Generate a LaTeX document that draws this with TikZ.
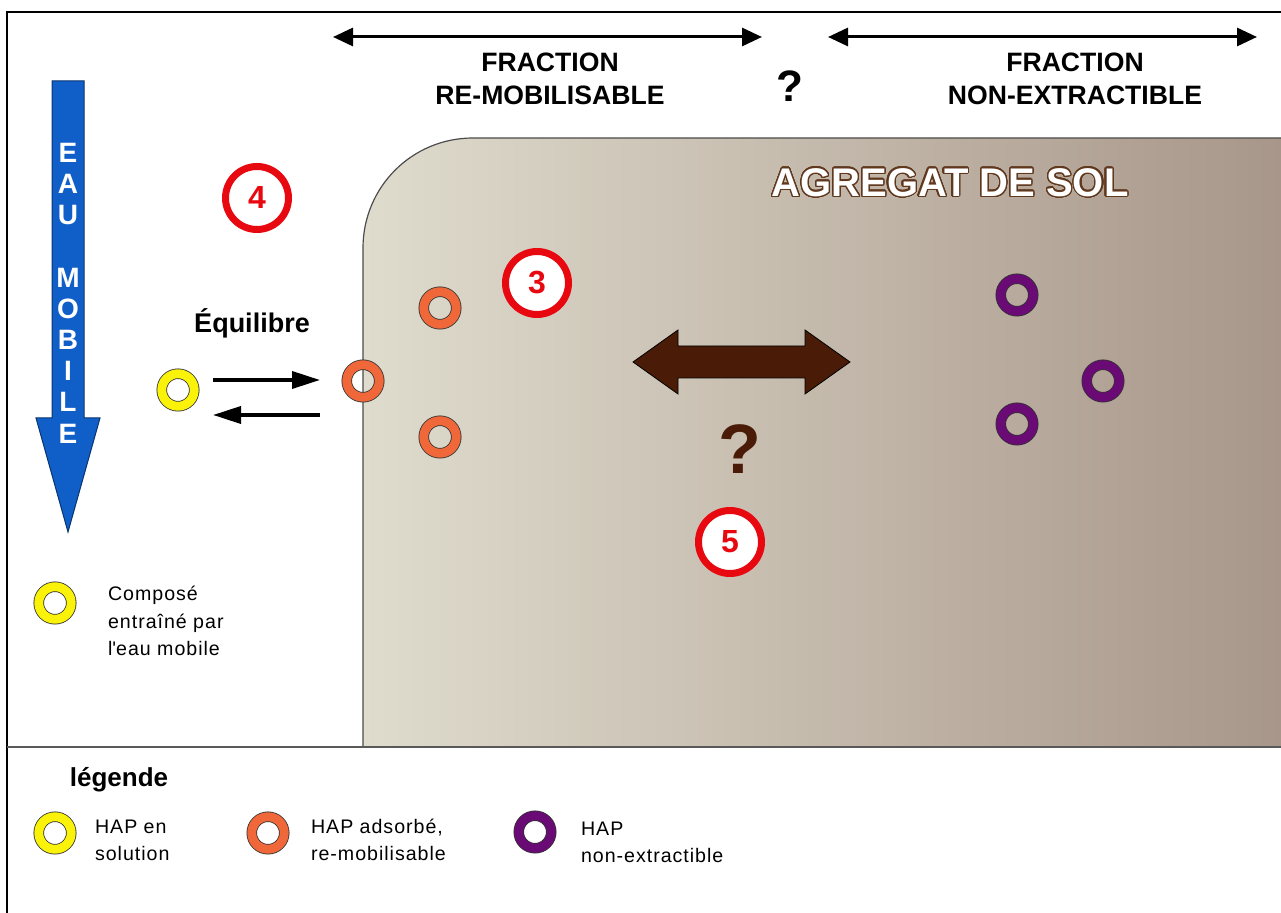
\documentclass[tikz,border=0pt]{standalone}
\usepackage{fontspec}
\setmainfont{Liberation Sans}
\newfontfamily\legfont[LetterSpace=5]{Liberation Sans}
\usepackage[copies]{contour}
\usetikzlibrary{
  arrows.meta,
  positioning,
}
\definecolor{eaublue}{RGB}{16,95,201}
\definecolor{hapyellow}{RGB}{250,242,8}
\definecolor{haporange}{RGB}{240,104,58}
\definecolor{hapviolet}{RGB}{106,10,116}
\definecolor{solleft}{RGB}{223,220,205}
\definecolor{solright}{RGB}{168,150,138}
\definecolor{brunfleche}{RGB}{74,28,8}
\definecolor{numred}{RGB}{232,8,16}
\definecolor{brunsol}{RGB}{96,56,30}
\contourlength{0.6pt}
\contournumber{32}

\tikzstyle{hap} = [
  circle,
  draw=black!80,
  line width=0.4pt,
  double distance=4.45pt,
  minimum size=16.25pt,
  inner sep=0pt,
]
\tikzstyle{hapjaune} = [hap, double=hapyellow]
\tikzstyle{haporange} = [hap, double=haporange]
\tikzstyle{hapviolet} = [hap, double=hapviolet]
\tikzstyle{numero} = [
  circle,
  draw=numred,
  line width=3.5pt,
  fill=white,
  minimum size=31.5pt,
  inner sep=0pt,
  text=numred,
  font=\fontsize{16}{16}\selectfont\bfseries,
]
\tikzstyle{fraction} = [
  {Triangle[length=10pt,width=9pt]}-{Triangle[length=10pt,width=9pt]},
  line width=1.5pt,
]
\tikzstyle{eqfleche} = [
  -{Triangle[length=14pt,width=8.5pt]},
  line width=1.8pt,
]
\tikzstyle{titre} = [align=center, font=\fontsize{13.3}{16.5}\selectfont\bfseries]
\tikzstyle{legende} = [align=left, anchor=west, font=\fontsize{9.8}{13.6}\selectfont\legfont]

\begin{document}
\begin{tikzpicture}[x=0.5pt,y=-0.5pt]
      \useasboundingbox (0,0) rectangle (1281,913);

      % agregat de sol
      \path[left color=solleft, right color=solright] (363,747) -- (363,248) .. controls (363,187) and (412,138) .. (473,138) -- (1281,138) -- (1281,747) -- cycle;
      \draw[black!70, line width=0.6pt] (363,747) -- (363,248) .. controls (363,187) and (412,138) .. (473,138) -- (1281,138);
      \node[font=\fontsize{20}{20}\selectfont\bfseries] (sol) at (950,183) {\contour{brunsol}{\textcolor{white}{AGREGAT DE SOL}}};

      % cadre
      \draw[line width=1pt] (7,913) -- (7,12) -- (1281,12);
      \draw[black!65, line width=1pt] (7,747) -- (1281,747);

      % eau mobile
      \draw[fill=eaublue, draw=eaublue!55!black, line width=0.5pt] (52,81) -- (84,81) -- (84,418) -- (100,418) -- (68,532) -- (36,418) -- (52,418) -- cycle;
      \node[text=white, align=center, font=\fontsize{14}{15.6}\selectfont\bfseries] (eau) at (68,293) {E\\A\\U\\~\\M\\O\\B\\I\\L\\E};

      % fractions
      \coordinate (remobG) at (333,37);
      \coordinate (remobD) at (762,37);
      \coordinate (nonextG) at (828,37);
      \coordinate (nonextD) at (1257,37);
      \draw[fraction] (remobG) -- (remobD);
      \draw[fraction] (nonextG) -- (nonextD);
      \node[titre] (remob) at (550,79) {FRACTION\\RE-MOBILISABLE};
      \node[titre] (nonext) at (1075,79) {FRACTION\\NON-EXTRACTIBLE};
      \node[font=\fontsize{22}{22}\selectfont\bfseries] (quest1) at (790,86) {?};

      % numeros
      \node[numero] (n4) at (257,198) {4};
      \node[numero] (n3) at (537,283) {3};
      \node[numero] (n5) at (730,542) {5};

      % equilibre
      \node[font=\fontsize{13.5}{13.5}\selectfont\bfseries] (equi) at (252,323) {Équilibre};
      \node[hapjaune] (sol1) at (178,390) {};
      \node[haporange] (ads0) at (363,381) {};
      \node[haporange] (ads1) at (440,308) {};
      \node[haporange] (ads2) at (440,437) {};
      \coordinate (eqA) at (213,380);
      \coordinate (eqB) at (320,380);
      \coordinate (eqC) at (320,415);
      \coordinate (eqD) at (213,415);
      \draw[eqfleche] (eqA) -- (eqB);
      \draw[eqfleche] (eqC) -- (eqD);

      % non-extractible
      \node[hapviolet] (ne1) at (1017,295) {};
      \node[hapviolet] (ne2) at (1103,381) {};
      \node[hapviolet] (ne3) at (1017,424) {};

      % transfert
      \draw[fill=brunfleche, draw=black, line width=0.4pt] (633,362) -- (678,330) -- (678,346) -- (805,346) -- (805,330) -- (850,362) -- (805,394) -- (805,378) -- (678,378) -- (678,394) -- cycle;
      \node[text=brunfleche, font=\fontsize{35}{35}\selectfont\bfseries] (quest2) at (740,449) {?};

      % legende
      \node[hapjaune] (lgc) at (55,603) {};
      \node[legende] (lgctxt) at (101,621) {Composé\\entraîné par\\l\textquotesingle eau mobile};
      \node[font=\fontsize{13}{13}\selectfont\bfseries] (leg) at (119,780) {légende};
      \node[hapjaune] (lg1) at (55,833) {};
      \node[legende] (lg1txt) at (88,840) {HAP en\\solution};
      \node[haporange] (lg2) at (268,833) {};
      \node[legende] (lg2txt) at (304,840) {HAP adsorbé,\\re-mobilisable};
      \node[hapviolet] (lg3) at (535,832) {};
      \node[legende] (lg3txt) at (574,842) {HAP\\non-extractible};

    \end{tikzpicture}
\end{document}
